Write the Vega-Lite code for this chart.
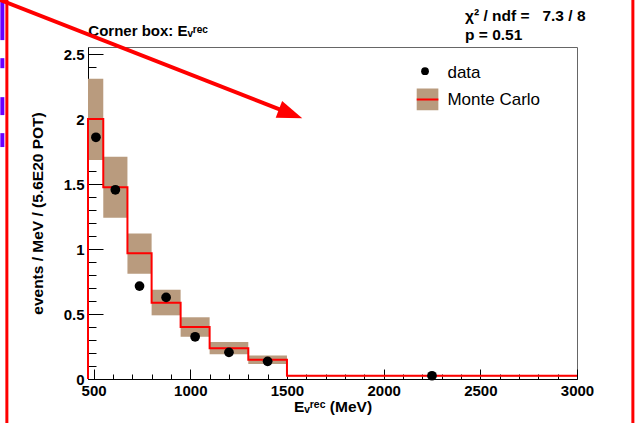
{
  "$schema": "https://vega.github.io/schema/vega-lite/v6.json",
  "autosize": "none",
  "width": 489,
  "height": 332,
  "padding": {"left": 88, "top": 47, "right": 58, "bottom": 44},
  "background": "white",
  "config": {
    "view": {"stroke": "#666666", "strokeWidth": 1},
    "font": "Liberation Sans",
    "axis": {"grid": false, "domainColor": "black", "tickColor": "black", "labelColor": "black", "titleColor": "black", "labelFont": "Liberation Sans", "titleFont": "Liberation Sans", "labelFontWeight": "bold", "titleFontWeight": "bold", "labelFontSize": 15, "titleFontSize": 15.5, "zindex": 1}
  },
  "datasets": {
    "bins": [
      {"lo": 471, "hi": 550, "mc": 2.0, "elo": 1.685, "ehi": 2.31},
      {"lo": 550, "hi": 675, "mc": 1.475, "elo": 1.24, "ehi": 1.71},
      {"lo": 675, "hi": 800, "mc": 0.967, "elo": 0.81, "ehi": 1.12},
      {"lo": 800, "hi": 950, "mc": 0.587, "elo": 0.49, "ehi": 0.687},
      {"lo": 950, "hi": 1100, "mc": 0.40, "elo": 0.325, "ehi": 0.475},
      {"lo": 1100, "hi": 1300, "mc": 0.236, "elo": 0.19, "ehi": 0.285},
      {"lo": 1300, "hi": 1500, "mc": 0.148, "elo": 0.115, "ehi": 0.18},
      {"lo": 1500, "hi": 3000, "mc": 0.025, "elo": 0.019, "ehi": 0.031}
    ],
    "mcline": [
      {"e": 471, "v": 0},
      {"e": 471, "v": 2.0},
      {"e": 550, "v": 1.475},
      {"e": 675, "v": 0.967},
      {"e": 800, "v": 0.587},
      {"e": 950, "v": 0.40},
      {"e": 1100, "v": 0.236},
      {"e": 1300, "v": 0.148},
      {"e": 1500, "v": 0.025},
      {"e": 3000, "v": 0.025}
    ],
    "points": [
      {"e": 512, "v": 1.86},
      {"e": 612.5, "v": 1.456},
      {"e": 737.5, "v": 0.715},
      {"e": 875, "v": 0.628},
      {"e": 1025, "v": 0.325},
      {"e": 1200, "v": 0.205},
      {"e": 1400, "v": 0.136},
      {"e": 2250, "v": 0.025}
    ],
    "legtext": [
      {"x": 2330, "y": 2.354, "t": "data"},
      {"x": 2330, "y": 2.146, "t": "Monte Carlo"}
    ],
    "legdot": [{"x": 2214, "y": 2.369}],
    "legbox": [{"x": 2171, "x2": 2283, "y": 2.069, "y2": 2.236, "ym": 2.151}],
    "stats": [
      {"x": 2421, "y": 2.795, "t": "\u03c7\u00b2 / ndf = \u00a0\u00a07.3 / 8"},
      {"x": 2421, "y": 2.646, "t": "p = 0.51"}
    ],
    "corner": [{"x": 472.6, "y": 2.68, "t": "Corner box: E\u1d65\u02b3\u1d49\u1d9c"}],
    "arrowline": [{"x": -8, "y": 2.931, "x2": 1465, "y2": 2.073}],
    "arrowhead": [{"x": 1518.7, "y": 2.041}],
    "borders": [
      {"x": 51.4, "y": -0.34, "y2": 2.92},
      {"x": 3289, "y": -0.34, "y2": 2.92}
    ],
    "dashes": [
      {"x": 28, "y": 2.915, "y2": 2.608},
      {"x": 28, "y": 2.469, "y2": 2.392},
      {"x": 28, "y": 2.169, "y2": 2.031},
      {"x": 28, "y": 1.892, "y2": 1.785}
    ]
  },
  "layer": [
    {
      "data": {"name": "bins"},
      "mark": {"type": "rect", "color": "#b99b7e"},
      "encoding": {
        "x": {"field": "lo", "type": "quantitative", "scale": {"domain": [471, 3000], "nice": false, "zero": false},
          "axis": {"values": [500, 1000, 1500, 2000, 2500, 3000], "format": "d", "tickSize": -10, "labelPadding": 14, "title": "E\u1d65\u02b3\u1d49\u1d9c (MeV)", "titlePadding": 1, "domainWidth": 1, "labelFlush": false, "labelOverlap": false}},
        "x2": {"field": "hi"},
        "y": {"field": "elo", "type": "quantitative", "scale": {"domain": [0, 2.555], "nice": false, "zero": false},
          "axis": {"values": [0, 0.5, 1, 1.5, 2, 2.5], "format": "~g", "tickSize": -15, "labelPadding": 19, "title": "events / MeV / (5.6E20 POT)", "titlePadding": 18, "labelFlush": false, "labelOverlap": false}},
        "y2": {"field": "ehi"}
      }
    },
    {
      "data": {"name": "mcline"},
      "mark": {"type": "line", "interpolate": "step-after", "color": "#ff0000", "strokeWidth": 2},
      "encoding": {
        "x": {"field": "e", "type": "quantitative", "axis": {"values": [600, 700, 800, 900, 1100, 1200, 1300, 1400, 1600, 1700, 1800, 1900, 2100, 2200, 2300, 2400, 2600, 2700, 2800, 2900], "tickSize": -5, "labels": false, "domain": false, "title": null, "orient": "bottom"}},
        "y": {"field": "v", "type": "quantitative", "axis": {"values": [0.1, 0.2, 0.3, 0.4, 0.6, 0.7, 0.8, 0.9, 1.1, 1.2, 1.3, 1.4, 1.6, 1.7, 1.8, 1.9, 2.1, 2.2, 2.3, 2.4], "tickSize": -8, "labels": false, "domain": false, "title": null, "orient": "left"}}
      }
    },
    {
      "data": {"name": "points"},
      "mark": {"type": "point", "filled": true, "color": "black", "size": 95, "opacity": 1},
      "encoding": {
        "x": {"field": "e", "type": "quantitative", "axis": null},
        "y": {"field": "v", "type": "quantitative", "axis": null}
      }
    },
    {
      "data": {"name": "legbox"},
      "mark": {"type": "rect", "color": "#b99b7e"},
      "encoding": {
        "x": {"field": "x", "type": "quantitative", "axis": null},
        "x2": {"field": "x2"},
        "y": {"field": "y", "type": "quantitative", "axis": null},
        "y2": {"field": "y2"}
      }
    },
    {
      "data": {"name": "legbox"},
      "mark": {"type": "rule", "color": "#ff0000", "strokeWidth": 2},
      "encoding": {
        "x": {"field": "x", "type": "quantitative", "axis": null},
        "x2": {"field": "x2"},
        "y": {"field": "ym", "type": "quantitative", "axis": null}
      }
    },
    {
      "data": {"name": "legdot"},
      "mark": {"type": "point", "filled": true, "color": "black", "size": 60, "opacity": 1},
      "encoding": {
        "x": {"field": "x", "type": "quantitative", "axis": null},
        "y": {"field": "y", "type": "quantitative", "axis": null}
      }
    },
    {
      "data": {"name": "legtext"},
      "mark": {"type": "text", "align": "left", "baseline": "middle", "fontSize": 17, "font": "Liberation Sans", "color": "black"},
      "encoding": {
        "x": {"field": "x", "type": "quantitative", "axis": null},
        "y": {"field": "y", "type": "quantitative", "axis": null},
        "text": {"field": "t"}
      }
    },
    {
      "data": {"name": "stats"},
      "mark": {"type": "text", "align": "left", "baseline": "middle", "fontSize": 15.5, "fontWeight": "bold", "font": "Liberation Sans", "color": "black"},
      "encoding": {
        "x": {"field": "x", "type": "quantitative", "axis": null},
        "y": {"field": "y", "type": "quantitative", "axis": null},
        "text": {"field": "t"}
      }
    },
    {
      "data": {"name": "corner"},
      "mark": {"type": "text", "align": "left", "baseline": "middle", "fontSize": 15, "fontWeight": "bold", "font": "Liberation Sans", "color": "black"},
      "encoding": {
        "x": {"field": "x", "type": "quantitative", "axis": null},
        "y": {"field": "y", "type": "quantitative", "axis": null},
        "text": {"field": "t"}
      }
    },
    {
      "data": {"name": "dashes"},
      "mark": {"type": "rule", "color": "#6a00ff", "strokeWidth": 4},
      "encoding": {
        "x": {"field": "x", "type": "quantitative", "axis": null},
        "y": {"field": "y", "type": "quantitative", "axis": null},
        "y2": {"field": "y2"}
      }
    },
    {
      "data": {"name": "borders"},
      "mark": {"type": "rule", "color": "#ff0000", "strokeWidth": 3},
      "encoding": {
        "x": {"field": "x", "type": "quantitative", "axis": null},
        "y": {"field": "y", "type": "quantitative", "axis": null},
        "y2": {"field": "y2"}
      }
    },
    {
      "data": {"name": "arrowline"},
      "mark": {"type": "rule", "color": "#ff0000", "strokeWidth": 4},
      "encoding": {
        "x": {"field": "x", "type": "quantitative", "axis": null},
        "y": {"field": "y", "type": "quantitative", "axis": null},
        "x2": {"field": "x2"},
        "y2": {"field": "y2"}
      }
    },
    {
      "data": {"name": "arrowhead"},
      "mark": {"type": "point", "filled": true, "color": "#ff0000", "opacity": 1, "size": 625, "angle": 21, "shape": "M-1,-0.72L1,0L-1,0.72Z"},
      "encoding": {
        "x": {"field": "x", "type": "quantitative", "axis": null},
        "y": {"field": "y", "type": "quantitative", "axis": null}
      }
    }
  ],
  "resolve": {"axis": {"x": "independent", "y": "independent"}}
}
